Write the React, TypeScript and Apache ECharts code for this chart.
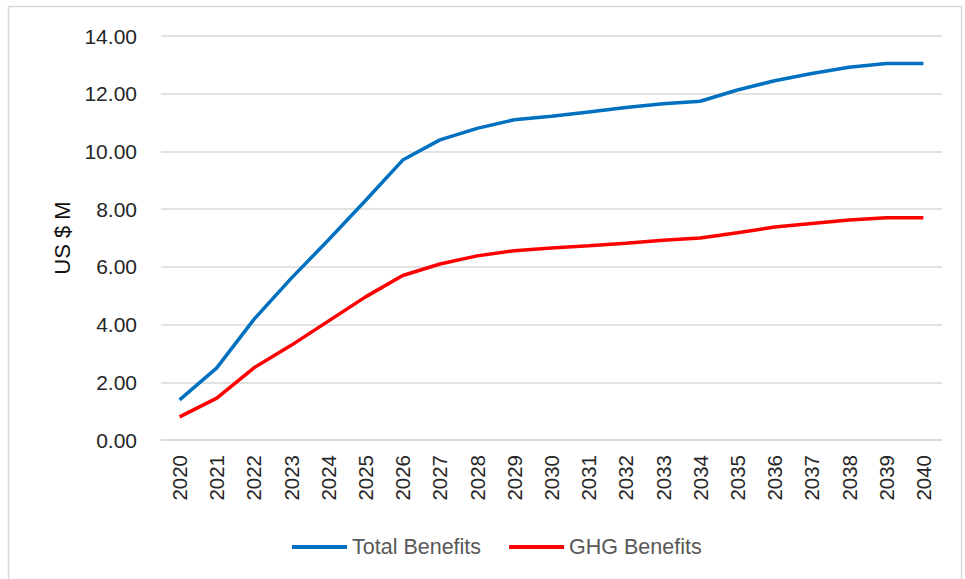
import React, { useEffect, useRef } from "react";
import * as echarts from "echarts";

const years = ["2020","2021","2022","2023","2024","2025","2026","2027","2028","2029","2030","2031","2032","2033","2034","2035","2036","2037","2038","2039","2040"];
const totalBenefits = [1.39, 2.5, 4.18, 5.6, 6.93, 8.3, 9.7, 10.4, 10.8, 11.1, 11.22, 11.37, 11.52, 11.65, 11.74, 12.13, 12.45, 12.7, 12.92, 13.05, 13.05];
const ghgBenefits = [0.8, 1.45, 2.5, 3.28, 4.12, 4.96, 5.7, 6.1, 6.38, 6.56, 6.65, 6.73, 6.82, 6.92, 7.0, 7.18, 7.38, 7.5, 7.62, 7.7, 7.7];
const yTicks = { min: 0, max: 14, interval: 2 };
const seriesNames = ["Total Benefits", "GHG Benefits"];
const FONT = "'Liberation Sans', Arial, sans-serif";

export default function App() {
  const ref = useRef<HTMLDivElement>(null);
  useEffect(() => {
    document.body.style.margin = "0";
    const chart = echarts.init(ref.current!, null, { renderer: "svg" });
    chart.setOption({
      animation: false,
      backgroundColor: "#ffffff",
      textStyle: { fontFamily: FONT },
      graphic: [
        {
          type: "rect",
          shape: { x: 8.5, y: 6.5, width: 953, height: 620 },
          style: { fill: "none", stroke: "#d9d9d9", lineWidth: 1.5 },
          silent: true,
        },
      ],
      grid: { left: 161, right: 23, top: 36, bottom: 139 },
      legend: {
        left: 287,
        top: 531,
        icon: "rect",
        itemWidth: 55,
        itemHeight: 4,
        itemGap: 28,
        textStyle: { color: "#595959", fontSize: 21.5, fontFamily: FONT },
        data: seriesNames,
      },
      xAxis: {
        type: "category",
        data: years,
        boundaryGap: true,
        axisLine: { lineStyle: { color: "#d9d9d9", width: 1.5 } },
        axisTick: { show: false },
        axisLabel: { rotate: 90, margin: 15, fontSize: 20.5, color: "#262626", fontFamily: FONT, interval: 0 },
      },
      yAxis: {
        type: "value",
        min: yTicks.min,
        max: yTicks.max,
        interval: yTicks.interval,
        name: "US $ M",
        nameLocation: "middle",
        nameGap: 88,
        nameRotate: 90,
        nameTextStyle: { fontSize: 22, color: "#111", fontFamily: FONT },
        axisLine: { show: false },
        axisTick: { show: false },
        axisLabel: { margin: 24, fontSize: 21, color: "#262626", fontFamily: FONT, formatter: (v: number) => v.toFixed(2) },
        splitLine: { lineStyle: { color: "#d9d9d9", width: 1.5 } },
      },
      series: [
        {
          name: seriesNames[0],
          type: "line",
          data: totalBenefits,
          symbol: "none",
          lineStyle: { color: "#0070c0", width: 3.5 },
          itemStyle: { color: "#0070c0" },
        },
        {
          name: seriesNames[1],
          type: "line",
          data: ghgBenefits,
          symbol: "none",
          lineStyle: { color: "#ff0000", width: 3.5 },
          itemStyle: { color: "#ff0000" },
        },
      ],
    });
    return () => chart.dispose();
  }, []);
  return <div ref={ref} style={{ width: 965, height: 579, position: "fixed", left: 0, top: 0 }} />;
}
